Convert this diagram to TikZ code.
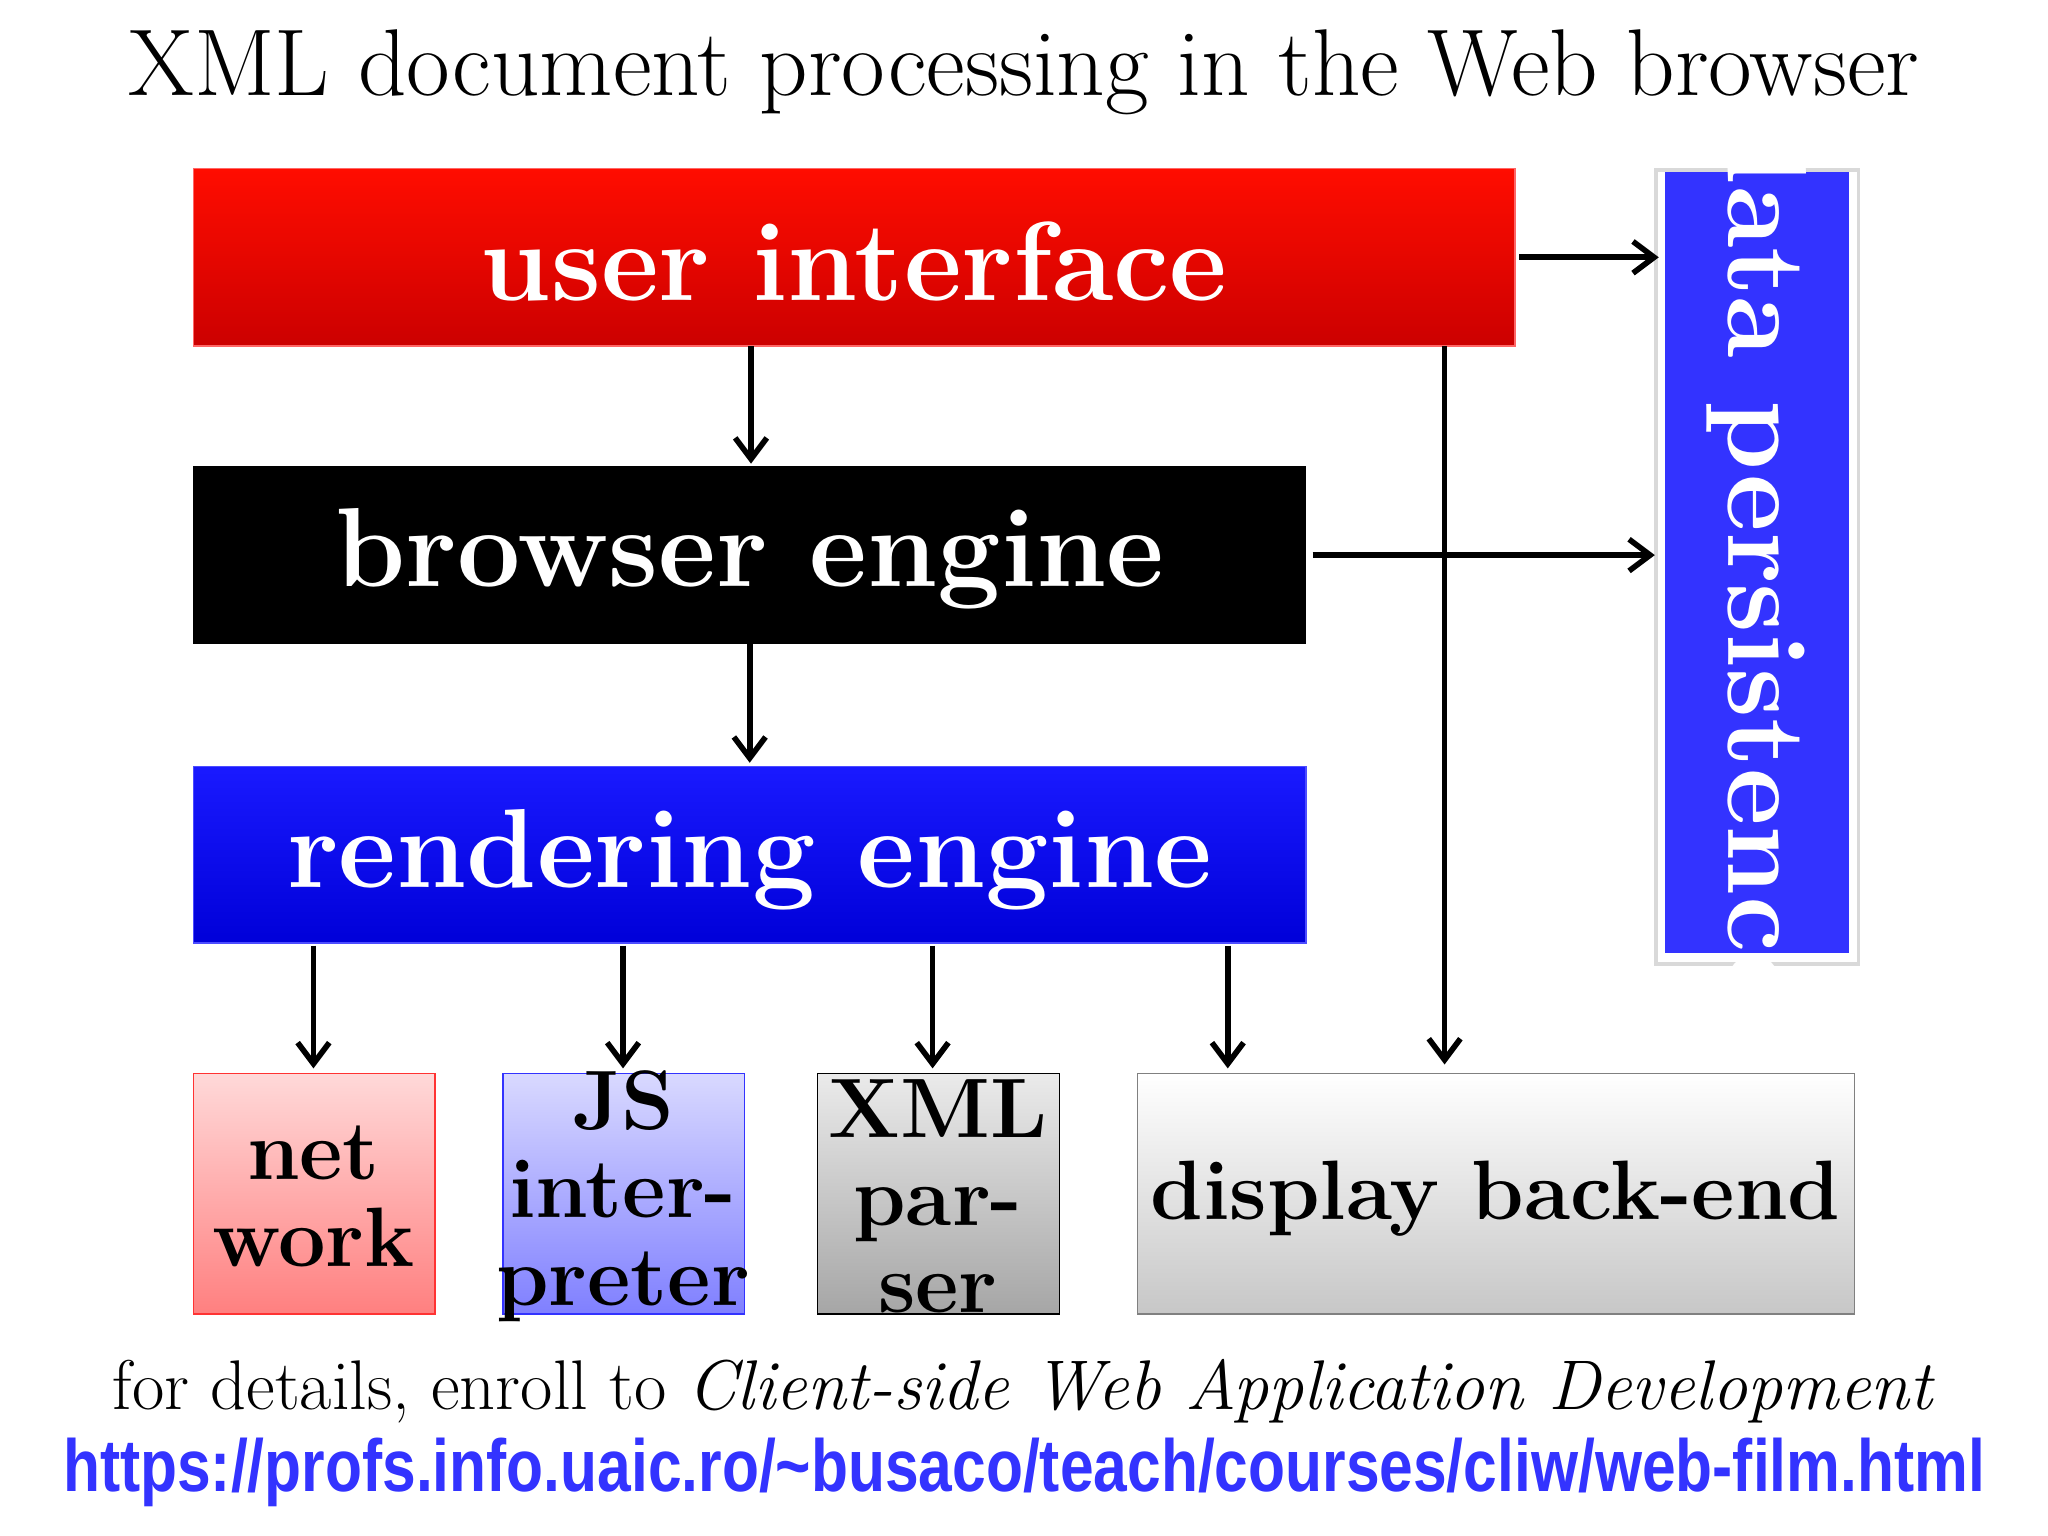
\documentclass[tikz,border=0pt]{standalone}
\usepackage{fontspec}
\newfontfamily\sansf{Liberation Sans}
\begin{document}
\begin{tikzpicture}[x=0.013061cm,y=-0.013061cm,
  box/.style={draw, minimum width=0pt},
  arr/.style={->, line width=1.6pt, >={Straight Barb[length=6pt,width=9pt]}},
  big/.style={font=\fontsize{32}{36}\selectfont\bfseries, text=white},
  small/.style={font=\fontsize{24}{25}\selectfont\bfseries, align=center}]
\usetikzlibrary{arrows.meta}
\useasboundingbox (0,0) rectangle (1568,1176);
\node (title) at (784,55) {\fontsize{27}{30}\selectfont XML document processing in the Web browser};
% boxes
\shade[top color=red!90!orange, bottom color=red!80!black, draw=red!60] (148,129) rectangle (1160,265);
\node[big] (ui) at (654,200) {user interface};
\fill[black] (148,357) rectangle (1000,493);
\node[big] (be) at (574,428) {browser engine};
\shade[top color=blue!90!white, bottom color=blue!85!black, draw=blue!70] (148,587) rectangle (1000,722);
\node[big] (re) at (574,658) {rendering engine};
\fill[white] (1268,130) rectangle (1423,738);
\fill[blue!80!white] (1275,132) rectangle (1416,730);
\draw[black!15,line width=1pt] (1268,130) rectangle (1423,738);
\node[big, rotate=-90] (dp) at (1345,431) {data persistence};
\shade[top color=red!15, bottom color=red!50, draw=red!80] (148,822) rectangle (333,1006);
\node[small] (net) at (240,916) {net\\work};
\shade[top color=blue!15, bottom color=blue!50, draw=blue!80] (385,822) rectangle (570,1006);
\node[small] (js) at (477,916) {JS\\inter-\\preter};
\shade[top color=black!8, bottom color=black!35, draw=black] (626,822) rectangle (811,1006);
\node[small] (xml) at (718,916) {XML\\par-\\ser};
\shade[top color=white, bottom color=black!22, draw=black!50] (871,822) rectangle (1420,1006);
\node[small] (disp) at (1145,918) {display back-end};
% arrows
\coordinate (a1) at (575,265); \coordinate (a2) at (575,355);
\draw[arr] (a1) -- (a2);
\coordinate (b1) at (574,493); \coordinate (b2) at (574,584);
\draw[arr] (b1) -- (b2);
\coordinate (c1) at (1163,197); \coordinate (c2) at (1270,197);
\draw[arr] (c1) -- (c2);
\coordinate (d1) at (1005,425); \coordinate (d2) at (1267,425);
\draw[arr] (d1) -- (d2);
\coordinate (e1) at (1106,265); \coordinate (e2) at (1106,815);
\draw[arr] (e1) -- (e2);
\foreach \x in {240,477,714,940}{
  \coordinate (f1) at (\x,724); \coordinate (f2) at (\x,818);
  \draw[arr] (f1) -- (f2);}
% footer
\node (foot) at (784,1065) {\fontsize{20}{24}\selectfont for details, enroll to \textit{Client-side Web Application Development}};
\node (url) at (784,1127) {\sansf\bfseries\color{blue!80!white}\scalebox{0.82}[1]{\fontsize{21}{24}\selectfont https://profs.info.uaic.ro/\textasciitilde busaco/teach/courses/cliw/web-film.html}};
\end{tikzpicture}
\end{document}
